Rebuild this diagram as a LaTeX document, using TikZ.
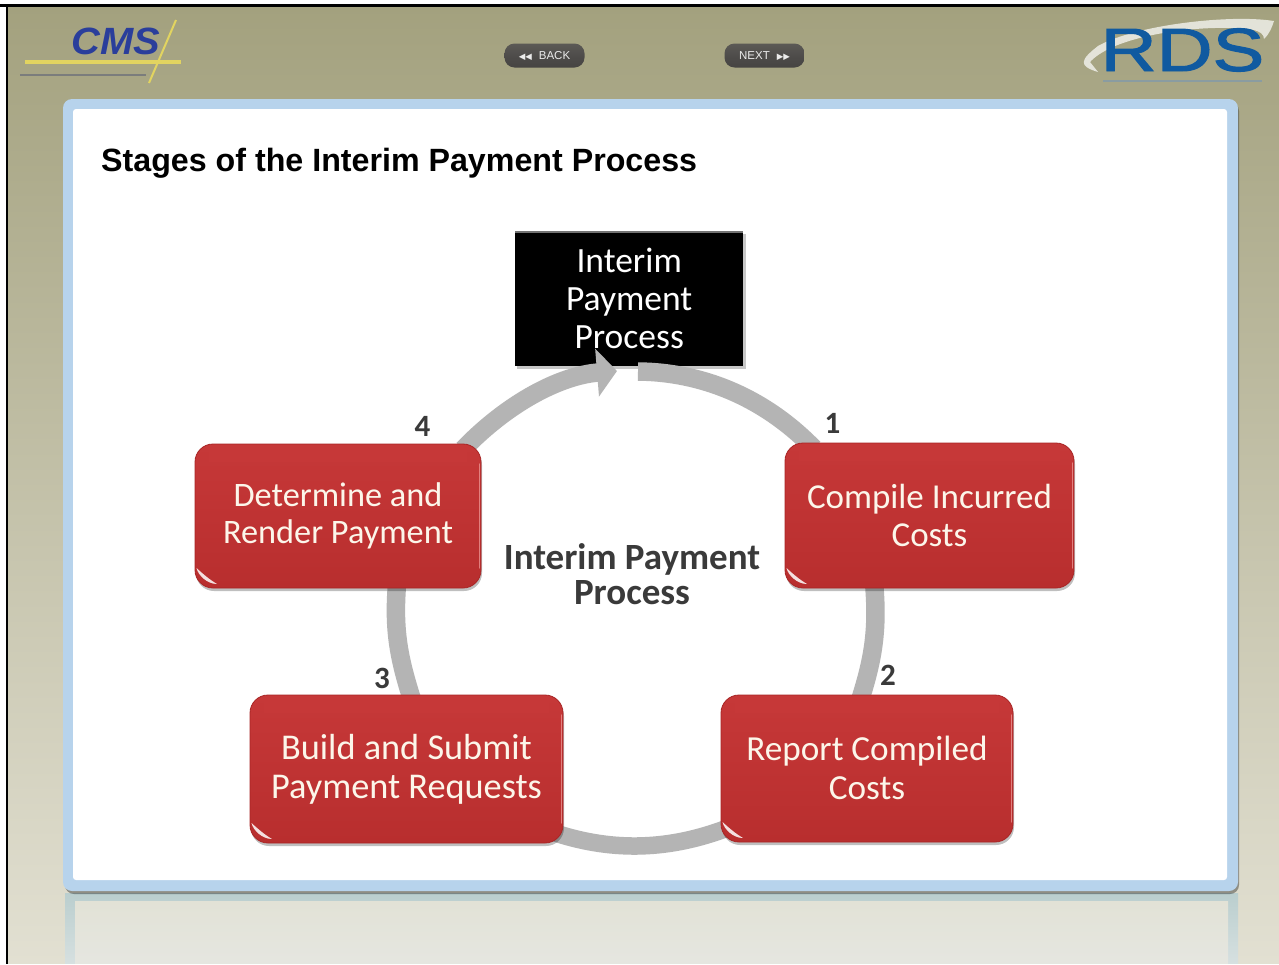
\documentclass[tikz,border=0pt]{standalone}
\usepackage{fontspec}
\setmainfont{Carlito}
\newfontfamily\titlefont{Liberation Sans}
\newfontfamily\rdsfont[FakeBold=1.6]{Liberation Sans}
\newfontfamily\symfont{DejaVu Sans}
\usetikzlibrary{arrows.meta,shadows,calc}
\pgfdeclarelayer{front}
\pgfsetlayers{main,front}
\definecolor{ringgray}{HTML}{B4B4B4}
\definecolor{redbody}{HTML}{C63838}
\definecolor{redlow}{HTML}{B82E2E}
\definecolor{redtop}{HTML}{EA625E}
\definecolor{rededge}{HTML}{A82525}
\definecolor{frameblue}{HTML}{B7D3EC}
\definecolor{cream}{HTML}{FCF6EA}
\definecolor{darktext}{HTML}{3A3A3A}
\definecolor{bgtop}{RGB}{163,161,126}
\definecolor{bgmid}{RGB}{177,174,144}
\definecolor{bglow}{RGB}{226,224,210}
\definecolor{reflA}{RGB}{186,206,206}
\definecolor{reflB}{RGB}{214,224,224}
\definecolor{reflC}{RGB}{226,226,214}
\definecolor{reflD}{RGB}{229,230,224}
\definecolor{cmsblue}{RGB}{42,62,155}
\definecolor{cmsyellow}{RGB}{226,212,96}
\definecolor{cmsgray}{RGB}{100,104,120}
\definecolor{rdsblue}{RGB}{16,90,160}
\definecolor{rdspale}{RGB}{118,150,180}
\definecolor{btnA}{RGB}{92,90,86}
\definecolor{btnB}{RGB}{70,68,66}
\definecolor{btnC}{RGB}{78,76,74}
\tikzset{
  rednode/.style={rounded corners=18pt,draw=rededge,line width=.8pt,
    top color=redbody,bottom color=redlow,text=cream,align=center,inner sep=0pt,
    minimum width=#1,
    drop shadow={shadow xshift=1pt,shadow yshift=-3pt,opacity=.25,fill=black},
    path picture={
      \shade[sharp corners,top color=redbody,middle color=redtop,bottom color=redbody]
        ([shift={(14pt,-2pt)}]path picture bounding box.north west) rectangle
        ([shift={(-14pt,-17pt)}]path picture bounding box.north east);
      \draw[sharp corners,line width=1.4pt,color=redtop!60!white,opacity=.7,line cap=round]
        ([shift={(-1.5pt,-20pt)}]path picture bounding box.north east) --
        ([shift={(-1.5pt,20pt)}]path picture bounding box.south east);
      \fill[sharp corners,white,opacity=.85]
        ([shift={(1.5pt,20pt)}]path picture bounding box.south west)
        .. controls ([shift={(3pt,13pt)}]path picture bounding box.south west)
        and ([shift={(12pt,4pt)}]path picture bounding box.south west)
        .. ([shift={(22pt,4pt)}]path picture bounding box.south west)
        .. controls ([shift={(15pt,8pt)}]path picture bounding box.south west)
        and ([shift={(8pt,14pt)}]path picture bounding box.south west)
        .. cycle;
    }},
  ringarc/.style={color=ringgray,line width=18.5pt,shorten <=-8pt,shorten >=-8pt},
  numlabel/.style={text=darktext,font=\bfseries\fontsize{31}{36}\selectfont,inner sep=0pt},
  navbtn/.style={rounded corners=10pt,draw=none,top color=btnA,bottom color=btnB,
    middle color=btnC,text=white!92!black,inner sep=0pt,minimum width=80pt,minimum height=24pt,
    text height=8.5pt,text depth=0pt,
    font=\titlefont\fontsize{11.5}{13}\selectfont},
}
\begin{document}
\begin{tikzpicture}[x=1pt,y=1pt]
\useasboundingbox (0,0) rectangle (1279,-964);
% page background
\fill[white] (0,0) rectangle (1279,-964);
\shade[top color=bgtop,middle color=bgmid,bottom color=bglow]
  (7,-6) rectangle (1279,-963);
\draw[line width=2.4pt,black] (0,-5.5) -- (1279,-5.5);
\draw[line width=2.4pt,black] (7,-5) -- (7,-964);
% reflection under panel
\shade[top color=reflA,bottom color=reflB]
  (65,-893) rectangle (1238,-963);
\shade[top color=reflC,bottom color=reflD]
  (75,-901) rectangle (1228,-963);
% panel
\fill[black,opacity=.35,rounded corners=9pt] (65,-102) rectangle (1239,-894);
\fill[frameblue,rounded corners=9pt] (63,-99) rectangle (1238,-891);
\fill[white,rounded corners=3pt] (73,-109) rectangle (1227,-880);
% CMS logo
\node[inner sep=0pt,text=cmsblue,transform shape,xscale=1.05] (cmslogo) at (116,-41)
  {\titlefont\bfseries\itshape\fontsize{38}{40}\selectfont CMS};
\coordinate (cmsa) at (25,-62);
\coordinate (cmsb) at (181,-62);
\coordinate (cmsc) at (176,-20);
\coordinate (cmsd) at (149,-83);
\draw[line width=4pt,color=cmsyellow] (cmsa) -- (cmsb);
\draw[line width=2pt,color=cmsyellow] (cmsc) -- (cmsd);
\coordinate (cmse) at (20,-75);
\coordinate (cmsf) at (146,-75);
\draw[line width=2.6pt,color=cmsgray,opacity=.65] (cmse) -- (cmsf);
% RDS logo
\fill[white,opacity=.7] (1098,-72) .. controls (1078,-66) and (1080,-60) .. (1098,-46)
  .. controls (1135,-25) and (1230,-14) .. (1274,-21)
  .. controls (1272,-27) and (1270,-33) .. (1264,-39)
  .. controls (1264,-30) and (1250,-27) .. (1215,-28)
  .. controls (1170,-29) and (1110,-40) .. (1090,-62) -- cycle;
\node[inner sep=0pt,text=rdsblue,transform shape,xscale=1.27] (rdslogo) at (1182.5,-50)
  {\rdsfont\fontsize{61}{64}\selectfont RDS};
\coordinate (rdsa) at (1103,-81);
\coordinate (rdsb) at (1262,-81);
\draw[line width=2.6pt,color=rdspale,opacity=.6] (rdsa) -- (rdsb);
% buttons
\node[navbtn] (back) at (544.5,-55.5) {{\symfont\fontsize{8.5}{10}\selectfont ◀◀}\hspace{7pt}BACK};
\node[navbtn] (next) at (764.5,-55.5) {NEXT\hspace{7pt}{\symfont\fontsize{8.5}{10}\selectfont ▶▶}};
% title
\node[anchor=west,inner sep=0pt,text=black] (title) at (101,-163)
  {\titlefont\bfseries\fontsize{32.2}{36}\selectfont Stages of the Interim Payment Process};
% top box
\fill[black,opacity=.22] (517,-234) rectangle (746,-369);
\node[fill=black,text=white,align=center,inner sep=0pt,anchor=north west,
      minimum width=228pt,minimum height=134pt,
      font=\fontsize{35.5}{38}\selectfont] (topbox) at (515,-232)
  {\raisebox{1pt}{Interim}\\\raisebox{1pt}{Payment}\\\raisebox{1pt}{Process}};
\draw[color=black!55,line width=1.2pt] (topbox.north west) -- (topbox.north east);
% red nodes
\begin{pgfonlayer}{front}
\node[rednode=286pt,minimum height=144pt,font=\fontsize{34.3}{37.5}\selectfont] (det) at (338,-516) {\raisebox{-1pt}{Determine and}\\\raisebox{-1pt}{Render Payment}};
\node[rednode=289pt,minimum height=145pt,font=\fontsize{35}{37.5}\selectfont] (comp) at (929.5,-515.5) {Compile Incurred\\Costs};
\node[rednode=313pt,minimum height=148pt,font=\fontsize{36.3}{39}\selectfont] (build) at (406.5,-769) {Build and Submit\\Payment Requests};
\node[rednode=292pt,minimum height=147pt,font=\fontsize{35.2}{39}\selectfont] (rep) at (867,-768.5) {\raisebox{2pt}{Report Compiled}\\\raisebox{2pt}{Costs}};
\end{pgfonlayer}
% ring
\coordinate (ringend) at (638,-371.5);
\coordinate (ringtip) at (617,-371);
\draw[ringarc,shorten >=0pt] (comp.149.5) to[out=134.2,in=-0.5,looseness=.885] (ringend);
\draw[ringarc] (comp.233.1) to[out=-84.9,in=72,looseness=.95] (rep.94);
\draw[ringarc,line width=17.5pt] (rep.203.3) to[out=-159.1,in=-17.9,looseness=.875] (build.337);
\draw[ringarc] (build.87.3) to[out=108,in=264.94,looseness=.95] (det.309.3);
\draw[ringarc,shorten >=0pt,-{Triangle[length=20pt,width=47pt]}] (det.29.6) to[out=46.1,in=184.6,looseness=.88] (ringtip);
% labels
\node[text=darktext,align=center,inner sep=0pt,font=\bfseries\fontsize{37}{35}\selectfont] (centre) at (632,-574)
  {Interim Payment\\Process};
\node[numlabel] (n1) at (832.5,-423) {1};
\node[numlabel] (n2) at (888,-675.5) {2};
\node[numlabel] (n3) at (382,-678) {3};
\node[numlabel] (n4) at (422.5,-426.5) {4};
\end{tikzpicture}
\end{document}
